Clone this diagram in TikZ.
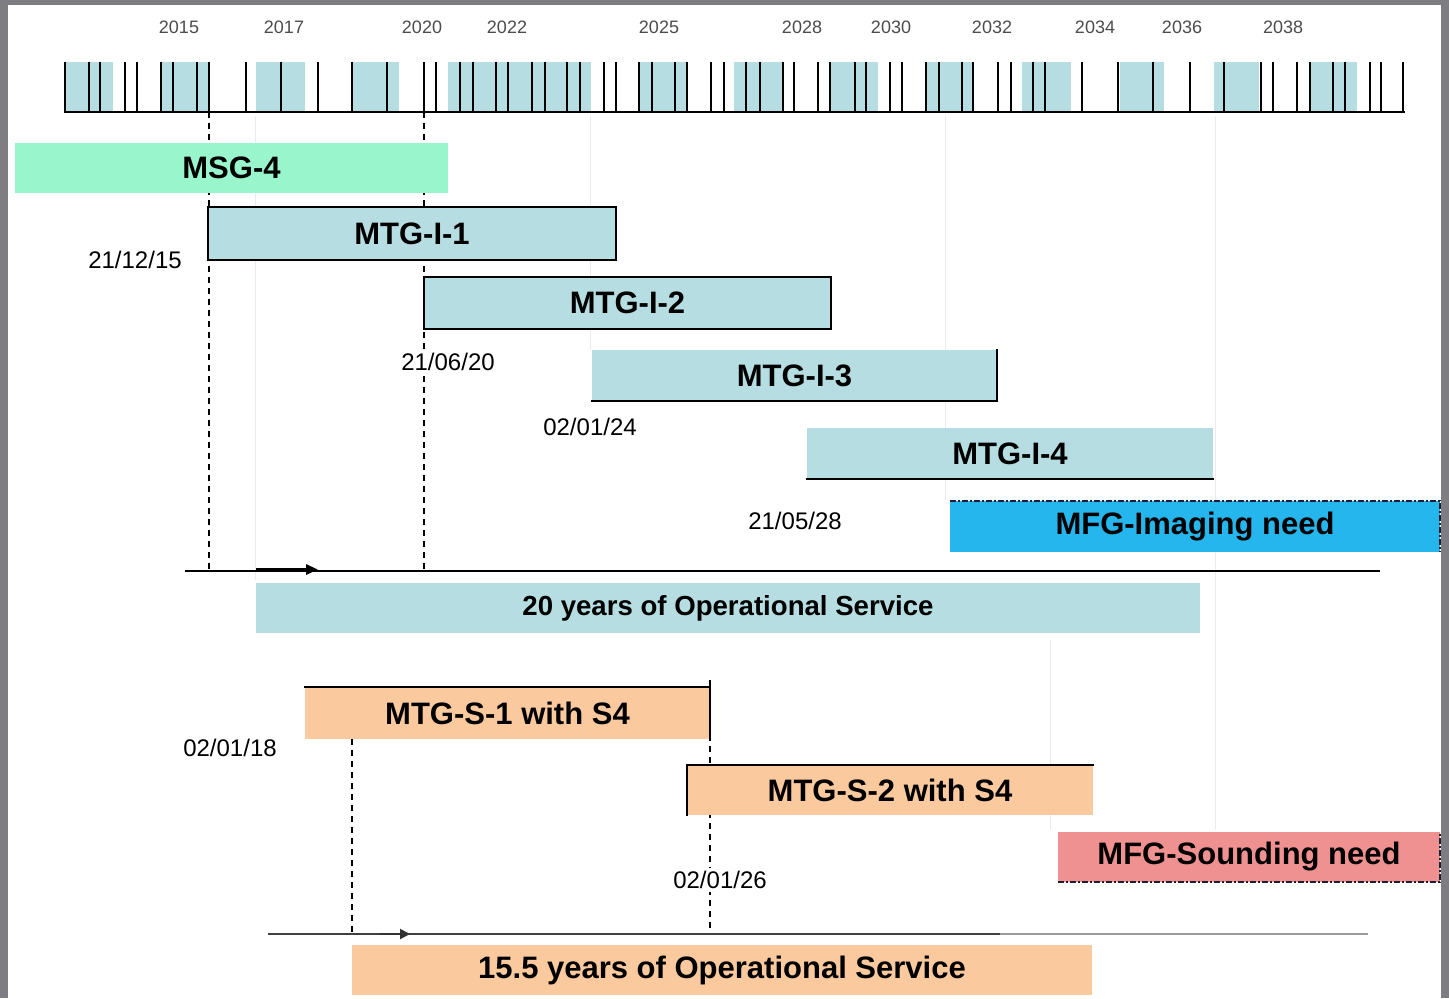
\documentclass[tikz,border=0pt]{standalone}
\usepackage{fontspec}
\setmainfont{Liberation Sans}
\usetikzlibrary{arrows.meta}
\definecolor{mint}{RGB}{153,245,204}
\definecolor{lblue}{RGB}{182,221,225}
\definecolor{cyanb}{RGB}{36,182,236}
\definecolor{peach}{RGB}{250,202,158}
\definecolor{pinkb}{RGB}{240,145,145}
\definecolor{framegray}{RGB}{125,125,130}
\definecolor{dashink}{RGB}{30,30,50}
\begin{document}
\begin{tikzpicture}[x=0.5pt,y=-0.5pt,
  gbar/.style={anchor=north west, inner sep=0pt, outer sep=0pt,
    font=\bfseries\fontsize{15.5}{18}\selectfont},
  datelbl/.style={font=\fontsize{12}{14}\selectfont, inner sep=1.5pt, fill=white},
  yearlbl/.style={font=\fontsize{9}{10}\selectfont, text=black!70, inner sep=0pt},
  edgeline/.style={line width=1.3pt, line cap=rect},
  dashdotedge/.style={line width=1.1pt, dashink, dash pattern=on 3pt off 1pt on 1pt off 1pt},
  guide/.style={line width=0.7pt, dash pattern=on 3pt off 2.5pt},
  faint/.style={line width=0.5pt, black!8},
  tickline/.style={line width=1pt},
  timeline/.style={line width=1pt}]
\useasboundingbox (0,0) rectangle (1449,998);
% background frame
\fill[framegray] (0,0) rectangle (1449,998);
\fill[white] (8,5) rectangle (1441,998);

% faint grid lines
\draw[faint] (255,116) -- (255,580);
\draw[faint] (590,116) -- (590,350);
\draw[faint] (945,116) -- (945,500);
\draw[faint] (1215,116) -- (1215,830);
\draw[faint] (1050,640) -- (1050,830);

% year labels
\foreach \x/\yr in {179/2015,284/2017,422/2020,507/2022,659/2025,802/2028,891/2030,992/2032,1095/2034,1182/2036,1283/2038}
  \node[yearlbl] (y\yr) at (\x,27) {\yr};

% tick bar
\foreach \a/\b in {65/113,161/209,256/305,352/399,448/591,638/687,734/783,830/878,925/973,1022/1071,1120/1164,1214/1259,1310/1357}
  \fill[lblue] (\a,62) rectangle (\b,112);
\foreach \x in {65,88.5,100,125,137,161,173,196.5,208.6,246,281,317.5,352,387,424,436,460,472.5,496,507.5,532,545,567,580,604,616,639,652,675,687,711,724,745.6,759.5,782.8,794.4,817.6,830.2,854.8,866.4,889.7,902.2,925.5,938.5,961.7,973.4,997.5,1010.6,1032.9,1045.4,1081.7,1117.5,1153.3,1189.5,1224.4,1260.8,1273.3,1296.5,1309.5,1332.7,1345.3,1369.5,1381.1,1403.4}
  \draw[tickline] (\x,62) -- (\x,112);
\draw[line width=1.4pt] (64,112) -- (1405,112);

% coordinates for guides and timelines
\coordinate (g1a) at (209,112);  \coordinate (g1b) at (209,571);
\coordinate (g2a) at (424,112);  \coordinate (g2b) at (424,571);
\coordinate (g3a) at (710,680);  \coordinate (g3b) at (710,934);
\coordinate (g4a) at (352,739);  \coordinate (g4b) at (352,934);
\coordinate (t1a) at (185,571);  \coordinate (t1b) at (1380,571);
\coordinate (a1a) at (256,569.5);  \coordinate (a1b) at (318,569.5);
\coordinate (t2a) at (268,934);  \coordinate (t2m) at (1000,934); \coordinate (t2b) at (1368,934);
\coordinate (a2a) at (380,934);  \coordinate (a2b) at (410,934);

% dashed guides
\draw[guide] (g1a) -- (g1b);
\draw[guide] (g2a) -- (g2b);
\draw[guide] (g3a) -- (g3b);
\draw[guide] (g4a) -- (g4b);

% timelines
\draw[timeline] (t1a) -- (t1b);
\draw[line width=2pt, -{Triangle[length=6pt,width=5pt]}] (a1a) -- (a1b);
\draw[timeline, black!75] (t2a) -- (t2m);
\draw[line width=0.8pt, black!40] (t2m) -- (t2b);
\draw[line width=1pt, black!80, -{Triangle[length=5pt,width=5pt]}] (a2a) -- (a2b);

% bars
\node[gbar, fill=mint, minimum width=216.5pt, minimum height=25pt] (msg4) at (15,143) {MSG-4};
\node[gbar, fill=lblue, minimum width=204pt, minimum height=26.5pt] (i1) at (208,207) {MTG-I-1};
\draw[edgeline] (i1.north west) rectangle (i1.south east);
\node[gbar, fill=lblue, minimum width=203.5pt, minimum height=26pt] (i2) at (424,277) {MTG-I-2};
\draw[edgeline] (i2.north west) rectangle (i2.south east);
\node[gbar, fill=lblue, minimum width=202.5pt, minimum height=25.5pt] (i3) at (592,350) {MTG-I-3};
\draw[edgeline] (i3.north east) -- (i3.south east) -- (i3.south west);
\node[gbar, fill=lblue, minimum width=203pt, minimum height=25.5pt] (i4) at (807,428) {MTG-I-4};
\draw[edgeline] (i4.south west) -- (i4.south east);
\node[gbar, fill=cyanb, minimum width=245pt, minimum height=25.5pt] (mfgi) at (950,501) {MFG-Imaging need};
\draw[dashdotedge] (mfgi.north west) -- (mfgi.north east) -- (mfgi.south east);
\node[gbar, fill=lblue, minimum width=472pt, minimum height=25pt, font=\bfseries\fontsize{13.8}{16}\selectfont] (ops20) at (256,583) {20 years of Operational Service};

\node[gbar, fill=peach, minimum width=202.5pt, minimum height=26pt] (s1) at (305,687) {MTG-S-1 with S4};
\draw[edgeline] (s1.north west) -- (s1.north east) -- (s1.south east);
\node[gbar, fill=peach, minimum width=203pt, minimum height=25pt] (s2) at (687,765) {MTG-S-2 with S4};
\draw[edgeline] (s2.south west) -- (s2.north west) -- (s2.north east);
\node[gbar, fill=pinkb, minimum width=191pt, minimum height=25pt] (mfgs) at (1058,832) {MFG-Sounding need};
\draw[dashdotedge] (mfgs.south west) -- (mfgs.south east) -- (mfgs.north east);
\node[gbar, fill=peach, minimum width=370pt, minimum height=25pt, font=\bfseries\fontsize{15.5}{18}\selectfont] (ops15) at (352,945) {15.5 years of Operational Service};

% dates
\node[datelbl] (d1) at (135,260) {21/12/15};
\node[datelbl] (d2) at (448,362) {21/06/20};
\node[datelbl] (d3) at (590,427) {02/01/24};
\node[datelbl] (d4) at (795,521) {21/05/28};
\node[datelbl] (d5) at (230,748) {02/01/18};
\node[datelbl] (d6) at (720,880) {02/01/26};
\end{tikzpicture}
\end{document}
